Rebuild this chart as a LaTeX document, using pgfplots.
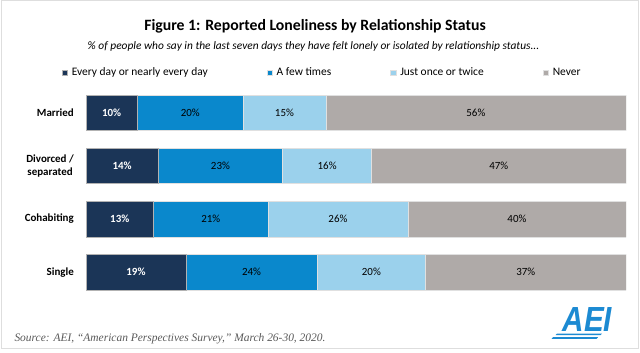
\documentclass[border=0pt]{standalone}
\usepackage{pgfplots}
\pgfplotsset{compat=1.18}
\usepackage{pgfplotstable}
\usepackage{fontspec}
\setmainfont{Carlito}
\newfontfamily\serifit{Liberation Serif}
\newfontfamily\logofont{Liberation Sans}
\definecolor{cNavy}{HTML}{1B3557}
\definecolor{cBlue}{HTML}{0A88CC}
\definecolor{cLight}{HTML}{9BD1EC}
\definecolor{cGray}{HTML}{AFAAA8}
\definecolor{cLogo}{HTML}{1C8AD2}

% y: 0 Married, 1 Divorced/separated, 2 Cohabiting, 3 Single
% x: segment length, mid: centre of segment, lab: printed percentage
\pgfplotstableread{
y x mid lab
0 9.5 4.75 10
1 13.4 6.7 14
2 12.5 6.25 13
3 18.5 9.25 19
}\tabA
\pgfplotstableread{
y x mid lab
0 19.6 19.3 20
1 23.0 24.9 23
2 21.2 23.1 21
3 24.3 30.65 24
}\tabB
\pgfplotstableread{
y x mid lab
0 15.3 36.75 15
1 16.5 44.65 16
2 25.9 46.65 26
3 20.1 52.85 20
}\tabC
\pgfplotstableread{
y x mid lab
0 55.6 72.2 56
1 47.1 76.45 47
2 40.4 79.8 40
3 37.1 81.45 37
}\tabD

\pgfplotsset{commonaxis/.style={
  at={(86bp,53.3bp)}, anchor=south west,
  scale only axis, width=540bp, height=212.4bp,
  xmin=0, xmax=100, ymin=-0.5, ymax=3.5, y dir=reverse,
}}

\begin{document}
\begin{tikzpicture}[x=1bp,y=1bp]
\path[use as bounding box] (0,0) rectangle (640,352);
\draw[black!13, line width=1bp] (1.5,3.5) rectangle (638.5,351.5);
\node[font=\fontsize{15.8}{19}\selectfont\bfseries] at (315,325.5) {Figure 1: Reported Loneliness by Relationship Status};
\node[font=\fontsize{11.45}{13}\selectfont\itshape] at (313.5,306) {\% of people who say in the last seven days they have felt lonely or isolated by relationship status...};
\begin{axis}[commonaxis,
  xbar stacked, bar width=35.5bp,
  ytick={0,1,2,3},
  yticklabels={Married, {Divorced /\\separated}, Cohabiting, Single},
  yticklabel style={align=center, font=\fontsize{11}{12.5}\selectfont\bfseries, inner sep=0pt, xshift=-12bp},
  xtick=\empty,
  axis line style={draw=none}, tick style={draw=none},
  legend columns=4,
  legend style={draw=none, fill=none, at={(0.4355,1.064)}, anchor=center,
    font=\fontsize{11.5}{12}\selectfont, inner sep=0pt,
    nodes={inner sep=0pt},
    /tikz/every odd column/.append style={column sep=4bp},
    /tikz/every even column/.append style={column sep=59bp}},
  legend cell align=left,
  legend image code/.code={\fill[#1] (0bp,-2.75bp) rectangle (5.5bp,2.75bp);},
]
\addplot[fill=cNavy, draw=black!30, line width=0.5bp] table[x=x, y=y] {\tabA};
\addlegendentry{Every day or nearly every day}
\addplot[fill=cBlue, draw=black!12, line width=0.5bp] table[x=x, y=y] {\tabB};
\addlegendentry{A few times}
\addplot[fill=cLight, draw=black!12, line width=0.5bp] table[x=x, y=y] {\tabC};
\addlegendentry{Just once or twice}
\addplot[fill=cGray, draw=black!12, line width=0.5bp] table[x=x, y=y] {\tabD};
\addlegendentry{Never}
\end{axis}
\begin{axis}[commonaxis, hide axis,
  point meta=explicit symbolic,
  nodes near coords={\pgfplotspointmeta\%},
  nodes near coords style={font=\fontsize{11}{12}\selectfont, anchor=center, inner sep=0pt},
]
\addplot[draw=none, mark=none, nodes near coords style={text=white, font=\fontsize{11}{12}\selectfont\bfseries}]
  table[x=mid, y=y, meta=lab] {\tabA};
\addplot[draw=none, mark=none] table[x=mid, y=y, meta=lab] {\tabB};
\addplot[draw=none, mark=none] table[x=mid, y=y, meta=lab] {\tabC};
\addplot[draw=none, mark=none] table[x=mid, y=y, meta=lab] {\tabD};
\end{axis}
\node[anchor=west, text=black!65, font=\fontsize{11.5}{13}\selectfont\serifit\itshape] at (11,13) {Source: AEI, “American Perspectives Survey,” March 26-30, 2020.};
\node[text=cLogo, font=\fontsize{35}{35}\selectfont\logofont\bfseries\itshape, inner sep=0pt] at (587.5,33) {\scalebox{0.85}[1]{AEI}};
\fill[cLogo] (557,18.5) -- (602,18.5) -- (600.5,16.8) -- (555.5,16.8) -- cycle;
\fill[cLogo] (553,14.8) -- (598,14.8) -- (596.5,13.1) -- (551.5,13.1) -- cycle;
\end{tikzpicture}
\end{document}
